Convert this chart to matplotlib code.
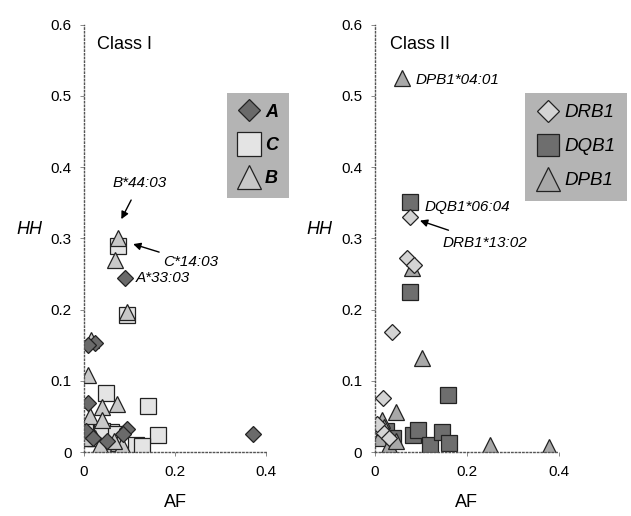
import numpy as np
import matplotlib
matplotlib.use('Agg')
import matplotlib.pyplot as plt

plt.rcParams['font.family'] = ['Liberation Sans', 'DejaVu Sans']

# Class I (AF, HH)
a_x = [0.09, 0.025, 0.01, 0.01, 0.095, 0.085, 0.37, 0.005, 0.05, 0.02]
a_y = [0.245, 0.153, 0.150, 0.069, 0.033, 0.025, 0.025, 0.030, 0.015, 0.020]
c_x = [0.075, 0.095, 0.048, 0.14, 0.002, 0.06, 0.163, 0.115, 0.127, 0.005, 0.04, 0.07]
c_y = [0.290, 0.193, 0.083, 0.064, 0.035, 0.028, 0.024, 0.010, 0.008, 0.020, 0.030, 0.025]
b_x = [0.075, 0.068, 0.095, 0.015, 0.01, 0.04, 0.072, 0.013, 0.04, 0.024, 0.053, 0.075, 0.083, 0.003, 0.065, 0.035]
b_y = [0.300, 0.270, 0.197, 0.157, 0.108, 0.063, 0.068, 0.050, 0.045, 0.020, 0.010, 0.013, 0.010, 0.020, 0.015, 0.010]

# Class II (AF, HH)
drb_x = [0.076, 0.07, 0.085, 0.037, 0.017, 0.015, 0.03, 0.005]
drb_y = [0.330, 0.272, 0.262, 0.169, 0.076, 0.030, 0.020, 0.040]
dqb_x = [0.076, 0.076, 0.159, 0.083, 0.093, 0.12, 0.146, 0.16, 0.025, 0.04]
dqb_y = [0.351, 0.225, 0.080, 0.024, 0.031, 0.010, 0.028, 0.012, 0.030, 0.020]
dpb_x = [0.059, 0.08, 0.102, 0.046, 0.015, 0.25, 0.378, 0.01, 0.03, 0.02, 0.045]
dpb_y = [0.525, 0.258, 0.132, 0.056, 0.045, 0.010, 0.007, 0.020, 0.010, 0.035, 0.015]

fig = plt.figure(figsize=(6.31, 5.16), dpi=100)
ax1 = fig.add_axes([0.133, 0.124, 0.289, 0.828])
ax2 = fig.add_axes([0.594, 0.124, 0.292, 0.828])

def style(ax):
    ax.set_xlim(0, 0.4)
    ax.set_ylim(0, 0.6)
    ax.set_xticks([0, 0.2, 0.4])
    ax.set_xticklabels(['0', '0.2', '0.4'])
    ax.set_yticks([0, 0.1, 0.2, 0.3, 0.4, 0.5, 0.6])
    ax.set_yticklabels(['0', '0.1', '0.2', '0.3', '0.4', '0.5', '0.6'])
    for s in ['top', 'right']:
        ax.spines[s].set_visible(False)
    for s in ['left', 'bottom']:
        ax.spines[s].set_linestyle(':')
        ax.spines[s].set_color('#555555')
        ax.spines[s].set_linewidth(1)
    ax.tick_params(length=3, width=0.6, color='#777777', labelsize=11, pad=6)
    ax.set_xlabel('AF', fontsize=13, labelpad=11)
    ax.set_ylabel('HH', fontsize=13, style='italic', rotation=0)
    ax.yaxis.set_label_coords(-0.3, 0.5)
    ax.patch.set_alpha(0)

ms = dict(linestyle='none', markeredgecolor='#222222', markeredgewidth=0.9)

style(ax1)
ax1.plot(c_x, c_y, 's', markersize=12, markerfacecolor='#e4e4e4', label='C', **ms)
ax1.plot(b_x, b_y, '^', markersize=12, markerfacecolor='#c8c8c8', label='B', **ms)
ax1.plot(a_x, a_y, 'D', markersize=8, markerfacecolor='#6a6a6a', label='A', **ms)
h, l = ax1.get_legend_handles_labels()
leg1 = ax1.legend([h[2], h[0], h[1]], ['A', 'C', 'B'], loc='upper left',
                  bbox_to_anchor=(0.735, 0.862), frameon=True, fancybox=False,
                  markerscale=1.45, handlelength=1.2, handletextpad=0.3,
                  labelspacing=0.9, borderpad=0.6,
                  prop={'style': 'italic', 'weight': 'bold', 'size': 13})
leg1.get_frame().set_facecolor('#b4b4b4')
leg1.get_frame().set_edgecolor('none')
leg1.get_frame().set_alpha(1)
ax1.text(0.029, 0.572, 'Class I', fontsize=13, va='center')
ax1.annotate('B*44:03', xy=(0.082, 0.327), xytext=(0.123, 0.378), fontsize=11,
             style='italic', ha='center', va='center',
             arrowprops=dict(arrowstyle='-|>', color='black', lw=1, shrinkA=6, shrinkB=0))
ax1.annotate('C*14:03', xy=(0.108, 0.292), xytext=(0.174, 0.267), fontsize=11,
             style='italic', ha='left', va='center',
             arrowprops=dict(arrowstyle='-|>', color='black', lw=1, shrinkA=1, shrinkB=0))
ax1.text(0.114, 0.244, 'A*33:03', fontsize=11, style='italic', va='center')

style(ax2)
ax2.plot(dqb_x, dqb_y, 's', markersize=11, markerfacecolor='#6e6e6e', label='DQB1', **ms)
ax2.plot(dpb_x, dpb_y, '^', markersize=12, markerfacecolor='#a8a8a8', label='DPB1', **ms)
ax2.plot(drb_x, drb_y, 'D', markersize=8, markerfacecolor='#d4d4d4', label='DRB1', **ms)
h, l = ax2.get_legend_handles_labels()
leg2 = ax2.legend([h[2], h[0], h[1]], ['DRB1', 'DQB1', 'DPB1'], loc='upper left',
                  bbox_to_anchor=(0.765, 0.862), frameon=True, fancybox=False,
                  markerscale=1.45, handlelength=1.2, handletextpad=0.3,
                  labelspacing=0.9, borderpad=0.6,
                  prop={'style': 'italic', 'size': 13.5})
leg2.get_frame().set_facecolor('#b4b4b4')
leg2.get_frame().set_edgecolor('none')
leg2.get_frame().set_alpha(1)
ax2.text(0.033, 0.572, 'Class II', fontsize=13, va='center')
ax2.text(0.089, 0.523, 'DPB1*04:01', fontsize=11, style='italic', va='center')
ax2.text(0.107, 0.344, 'DQB1*06:04', fontsize=11, style='italic', va='center')
ax2.annotate('DRB1*13:02', xy=(0.098, 0.325), xytext=(0.148, 0.294), fontsize=11,
             style='italic', ha='left', va='center',
             arrowprops=dict(arrowstyle='-|>', color='black', lw=1, shrinkA=6, shrinkB=0))

fig.savefig('out.png', dpi=100)
